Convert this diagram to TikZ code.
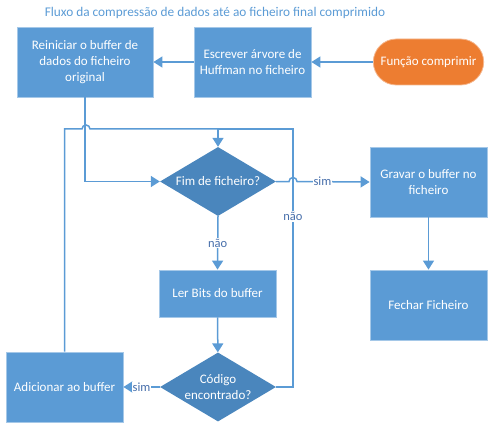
\documentclass[tikz,border=0pt]{standalone}
\usepackage{fontspec}
\setmainfont{Carlito}
\usetikzlibrary{shapes.geometric,shapes.misc,arrows.meta}
\definecolor{caixa}{RGB}{91,155,213}
\definecolor{losango}{RGB}{74,134,189}
\definecolor{laranja}{RGB}{237,125,49}
\definecolor{linha}{RGB}{91,155,213}
\definecolor{etiqueta}{RGB}{70,110,170}

\begin{document}
\begin{tikzpicture}[
    x=1pt, y=-1pt, >={Triangle[length=9pt,width=11pt]},
    caixa/.style={rectangle, fill=caixa, draw=caixa!55!white, line width=0.8pt,
      text=white, align=center, minimum width=117, minimum height=70,
      font=\fontsize{13}{16}\selectfont},
    decisao/.style={diamond, fill=losango, text=white, align=center,
      minimum width=116, minimum height=69, inner sep=0pt, shape aspect=1.7,
      font=\fontsize{13}{16}\selectfont},
    inicio/.style={rounded rectangle, fill=laranja, draw=laranja!55!white, line width=0.8pt,
      text=white, minimum width=117, minimum height=46,
      font=\fontsize{13}{16}\selectfont},
    seta/.style={draw=linha, line width=1.5pt},
    rotulo/.style={fill=white, text=etiqueta, inner sep=1pt,
      font=\fontsize{12.5}{14}\selectfont},
    titulo/.style={text=linha, font=\fontsize{13.3}{15}\selectfont}
  ]
    \useasboundingbox (0,0) rectangle (495,433);
    \node[titulo] (titulo) at (215,13) {Fluxo da compressão de dados até ao ficheiro final comprimido};
    \node[caixa, minimum width=136] (reiniciar) at (85,62) {Reiniciar o buffer de\\dados do ficheiro\\original};
    \node[caixa] (escrever) at (252.5,62) {Escrever árvore de\\Huffman no ficheiro};
    \node[inicio] (funcao) at (428.5,62) {Função comprimir};
    \node[decisao] (fim) at (218,181.5) {Fim de ficheiro?};
    \node[caixa] (gravar) at (428.5,182) {Gravar o buffer no\\ficheiro};
    \node[caixa, minimum height=47] (ler) at (217.5,293.5) {Ler Bits do buffer};
    \node[caixa] (fechar) at (428.5,305) {Fechar Ficheiro};
    \node[decisao] (codigo) at (218,387) {Código\\encontrado?};
    \node[caixa] (adicionar) at (64.5,387) {Adicionar ao buffer};
    % pontos dos saltos de linha
    \coordinate (salto1) at (86,129);
    \coordinate (salto2) at (293,181.5);
    \coordinate (canto) at (293,129);
    \draw[seta,->] (funcao) -- (escrever);
    \draw[seta,->] (escrever) -- (reiniciar);
    \draw[seta,->] (reiniciar.south) |- (fim.west);
    \draw[seta,->] (fim.east) -- ([xshift=-4pt]salto2) arc[start angle=180, end angle=0, radius=4pt]
      -- node[rotulo, pos=0.35] {sim} (gravar.west);
    \draw[seta,->] (gravar) -- (fechar);
    \draw[seta,->] (fim.south) -- node[rotulo] {não} (ler.north);
    \draw[seta,->] (ler) -- (codigo);
    \draw[seta,->] (codigo.west) -- node[rotulo] {sim} (adicionar.east);
    \draw[seta,->] (codigo.east) -| node[rotulo, pos=0.83] {não} (canto) -| (fim.north);
    \draw[seta] (adicionar.north) |- ([xshift=-4pt]salto1) arc[start angle=180, end angle=0, radius=4pt]
      -- (fim.north |- salto1);
  \end{tikzpicture}
\end{document}
